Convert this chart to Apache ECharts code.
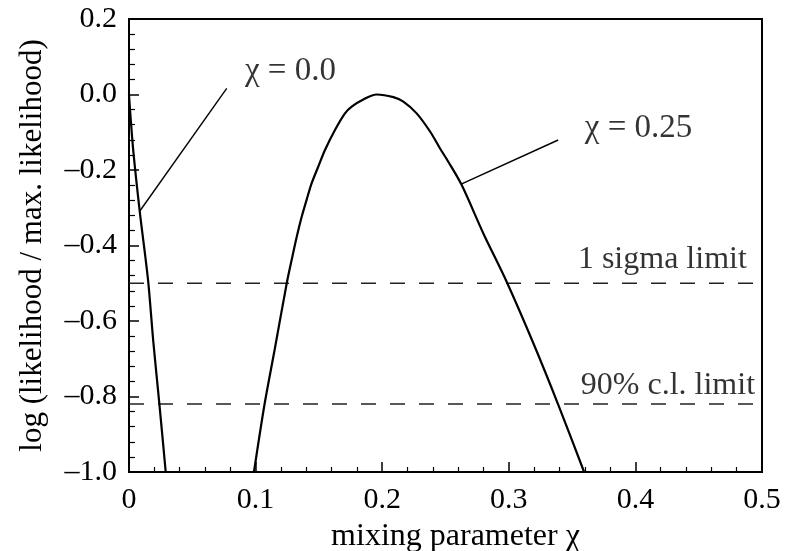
<!DOCTYPE html>
<html>
<head>
<meta charset="utf-8">
<script src="https://cdn.jsdelivr.net/npm/echarts@6/dist/echarts.min.js"></script>
<style>html,body{margin:0;padding:0;background:#fff}#c{width:793px;height:551px}</style>
</head>
<body>
<div id="c"></div>
<script>
// ---- data ----
const curveChi0 = [[0.0, 0.0], [0.0008, -0.04], [0.0034, -0.15], [0.0085, -0.31], [0.015, -0.49], [0.0192, -0.655], [0.024, -0.82], [0.029, -1.0]];
const curveChi025 = [[0.0987, -1.0], [0.107, -0.822], [0.115, -0.677], [0.1246, -0.500], [0.1285, -0.438], [0.1325, -0.377], [0.1364, -0.324], [0.1403, -0.279], [0.1443, -0.235], [0.1495, -0.191], [0.1548, -0.147], [0.1627, -0.094], [0.1706, -0.050], [0.1759, -0.032], [0.1851, -0.013], [0.1956, 0.0], [0.2088, -0.007], [0.2167, -0.019], [0.2272, -0.050], [0.2378, -0.098], [0.2457, -0.143], [0.2522, -0.178], [0.2628, -0.240], [0.2799, -0.368], [0.2983, -0.496], [0.3194, -0.659], [0.3391, -0.822], [0.3595, -1.0]];
const sigmaLimit = -0.5;
const clLimit = -0.82;
const xTicks = [0, 0.1, 0.2, 0.3, 0.4, 0.5];
const xTickLabels = ['0', '0.1', '0.2', '0.3', '0.4', '0.5'];
const yTicks = [0.2, 0.0, -0.2, -0.4, -0.6, -0.8, -1.0];
const yTickLabels = ['0.2', '0.0', '\u20130.2', '\u20130.4', '\u20130.6', '\u20130.8', '\u20131.0'];
const annotationTexts = ['\u03c7 = 0.0', '\u03c7 = 0.25', '1 sigma limit', '90% c.l. limit'];
const xName = 'mixing parameter \u03c7';
const yName = 'log (likelihood / max. likelihood)';

function pick(ticks, labels, v) {
  let best = 0;
  for (let i = 1; i < ticks.length; i++) if (Math.abs(ticks[i] - v) < Math.abs(ticks[best] - v)) best = i;
  return Math.abs(ticks[best] - v) < 1e-6 ? labels[best] : '';
}

const FONT = '"Liberation Serif", serif';
const chart = echarts.init(document.getElementById('c'), null, {renderer: 'canvas'});
const textStyleBase = {fontFamily: FONT, color: '#000'};

chart.setOption({
  animation: false,
  backgroundColor: '#fff',
  grid: {left: 129, right: 31, top: 19, bottom: 79, show: true, borderColor: '#000', borderWidth: 2, backgroundColor: '#fff', containLabel: false, outerBoundsMode: 'none'},
  xAxis: {
    type: 'value', min: 0, max: 0.5, interval: 0.1,
    name: xName, nameLocation: 'middle', nameGap: 49,
    nameTextStyle: Object.assign({fontSize: 32, padding: [0, 0, 0, 20]}, textStyleBase),
    axisLine: {onZero: false, lineStyle: {color: '#000', width: 2}},
    axisTick: {inside: true, length: 10, lineStyle: {color: '#000', width: 1.5}},
    minorTick: {show: true, splitNumber: 5, length: 5, lineStyle: {color: '#000', width: 1.2}},
    splitLine: {show: false},
    axisLabel: Object.assign({fontSize: 30, margin: 13, formatter: v => pick(xTicks, xTickLabels, v)}, textStyleBase)
  },
  yAxis: {
    type: 'value', min: -1.0, max: 0.2, interval: 0.2,
    name: yName, nameLocation: 'middle', nameGap: 81,
    nameTextStyle: Object.assign({fontSize: 31}, textStyleBase),
    axisLine: {onZero: false, lineStyle: {color: '#000', width: 2}},
    axisTick: {inside: true, length: 10, lineStyle: {color: '#000', width: 1.5}},
    minorTick: {show: true, splitNumber: 5, length: 6, lineStyle: {color: '#000', width: 1.2}},
    splitLine: {show: false},
    axisLabel: Object.assign({fontSize: 30, margin: 12, formatter: v => pick(yTicks, yTickLabels, v)}, textStyleBase)
  },
  series: [
    {type: 'line', data: curveChi0, symbol: 'none', smooth: 0.3, lineStyle: {color: '#000', width: 2.2}, z: 5},
    {type: 'line', data: curveChi025, symbol: 'none', smooth: 0.3, lineStyle: {color: '#000', width: 2.2}, z: 5},
    {type: 'line', data: [[0, sigmaLimit], [0.5, sigmaLimit]], symbol: 'none', lineStyle: {color: '#222', width: 1.4, type: [15, 14]}},
    {type: 'line', data: [[0, clLimit], [0.5, clLimit]], symbol: 'none', lineStyle: {color: '#222', width: 1.4, type: [15, 14]}},
    // leader lines
    {type: 'line', data: [[0.0087, -0.308], [0.0772, 0.016]], symbol: 'none', lineStyle: {color: '#000', width: 1.4}},
    {type: 'line', data: [[0.2628, -0.237], [0.339, -0.1205]], symbol: 'none', lineStyle: {color: '#000', width: 1.4}},
    // annotation texts
    {type: 'scatter', symbolSize: 0, silent: true,
      data: [
        {value: [0.0916, 0.062], label: {position: 'right', fontSize: 33, formatter: annotationTexts[0]}},
        {value: [0.360, -0.089], label: {position: 'right', fontSize: 33, formatter: annotationTexts[1]}},
        {value: [0.4880, -0.438], label: {position: 'left', formatter: annotationTexts[2]}},
        {value: [0.4945, -0.770], label: {position: 'left', formatter: annotationTexts[3]}}
      ],
      label: Object.assign({show: true, distance: 0, fontSize: 32}, textStyleBase)
    }
  ]
});
</script>
</body>
</html>
